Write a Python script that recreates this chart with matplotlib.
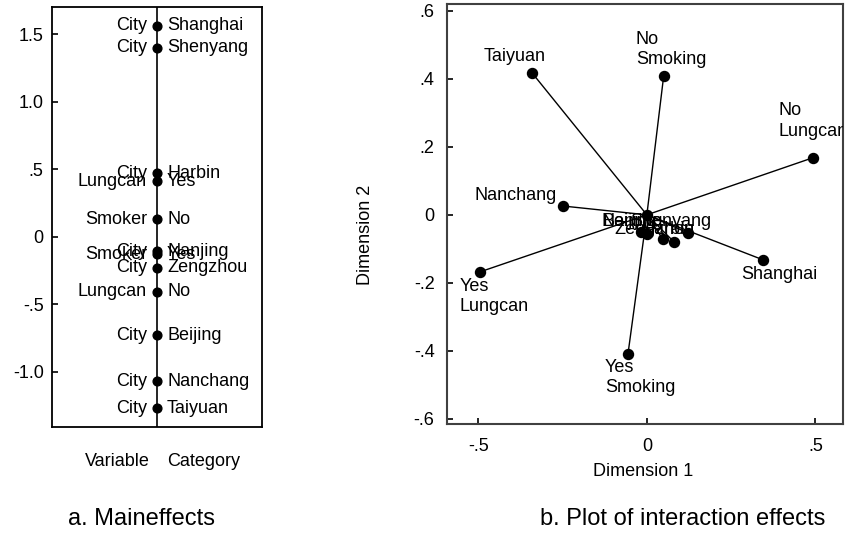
import matplotlib
matplotlib.use("Agg")
import matplotlib.pyplot as plt

plt.rcParams['font.family'] = ['Liberation Sans', 'DejaVu Sans']

# a. main effects
var_names = ["City", "City", "City", "Lungcan", "Smoker", "City", "Smoker",
             "City", "Lungcan", "City", "City", "City"]
cat_names = ["Shanghai", "Shenyang", "Harbin", "Yes", "No", "Nanjing", "Yes",
             "Zengzhou", "No", "Beijing", "Nanchang", "Taiyuan"]
main_vals = [1.56, 1.40, 0.47, 0.41, 0.13, -0.11, -0.13, -0.23, -0.41, -0.73, -1.07, -1.27]

main_ticks = [1.5, 1.0, 0.5, 0, -0.5, -1.0]
main_ticklabels = ["1.5", "1.0", ".5", "0", "-.5", "-1.0"]

# b. interaction effects
int_labels = ["Taiyuan", "No\nSmoking", "No\nLungcan", "Nanchang", "Yes\nLungcan",
              "Shanghai", "Yes\nSmoking", "Beijing", "Nanjing", "Zengzhou", "Harbin", "Shenyang"]
dim1 = [-0.341, 0.050, 0.493, -0.249, -0.496, 0.344, -0.056, -0.018, 0.0, 0.047, 0.080, 0.122]
dim2 = [0.418, 0.409, 0.168, 0.026, -0.168, -0.132, -0.409, -0.050, -0.056, -0.071, -0.079, -0.053]

xticks_b = [-0.5, 0, 0.5]
xticklabels_b = ["-.5", "0", ".5"]
yticks_b = [0.6, 0.4, 0.2, 0, -0.2, -0.4, -0.6]
yticklabels_b = [".6", ".4", ".2", "0", "-.2", "-.4", "-.6"]

# label placement (pixel offsets, alignment)
label_pos = [(-17, 8, 'center', 'bottom'), (-28, 8, 'left', 'bottom'),
             (-35, 18, 'left', 'bottom'), (-6, 11, 'right', 'center'),
             (-20, -6, 'left', 'top'), (17, -15, 'center', 'center'),
             (-23, -5, 'left', 'top'), (-11, 10, 'center', 'center'),
             (-15, 12, 'center', 'center'), (-8, 9, 'center', 'center'),
             (-6, 12, 'center', 'center'), (-17, 11, 'center', 'center')]

fs = 13

fig = plt.figure(figsize=(8.46, 5.33), dpi=100)

# left panel
ax1 = fig.add_axes([52 / 846, 106 / 533, 210 / 846, 420 / 533])
ax1.set_xlim(0, 1)
ax1.set_ylim(-1.41, 1.70)
ax1.axvline(0.5, color='black', lw=1.2)
ax1.plot([0.5] * len(main_vals), main_vals, 'o', color='black', ms=6.3)
for v, c, y in zip(var_names, cat_names, main_vals):
    ax1.annotate(v, (0.5, y), xytext=(-10, 0), textcoords='offset pixels',
                 ha='right', va='center', fontsize=fs)
    ax1.annotate(c, (0.5, y), xytext=(10, 0), textcoords='offset pixels',
                 ha='left', va='center', fontsize=fs)
ax1.set_xticks([])
ax1.set_yticks(main_ticks)
ax1.set_yticklabels(main_ticklabels, fontsize=fs)
ax1.tick_params(axis='y', direction='in', length=4, width=1.2, pad=6)
for s in ax1.spines.values():
    s.set_linewidth(1.3)
    s.set_color('black')

fig.text(150 / 846, 1 - 462 / 533, "Variable", ha='right', va='center', fontsize=fs)
fig.text(167 / 846, 1 - 462 / 533, "Category", ha='left', va='center', fontsize=fs)
fig.text(141 / 846, 1 - 519 / 533, "a. Maineffects", ha='center', va='center', fontsize=17)

# right panel
ax2 = fig.add_axes([447 / 846, 109 / 533, 396 / 846, 420 / 533])
ax2.set_xlim(-0.593, 0.582)
ax2.set_ylim(-0.615, 0.62)
for x, y in zip(dim1, dim2):
    ax2.plot([0, x], [0, y], color='black', lw=1.0)
ax2.plot([0], [0], 'o', color='black', ms=7.2)
ax2.plot(dim1, dim2, 'o', color='black', ms=7.2, ls='none')
for lab, x, y, (dx, dy, ha, va) in zip(int_labels, dim1, dim2, label_pos):
    ax2.annotate(lab, (x, y), xytext=(dx, dy), textcoords='offset pixels',
                 ha=ha, va=va, fontsize=fs, linespacing=1.25,
                 annotation_clip=False, clip_on=True)
ax2.set_xticks(xticks_b)
ax2.set_xticklabels(xticklabels_b, fontsize=fs)
ax2.set_yticks(yticks_b)
ax2.set_yticklabels(yticklabels_b, fontsize=fs)
ax2.tick_params(direction='in', length=4, width=1.2)
ax2.tick_params(axis='y', pad=9)
ax2.tick_params(axis='x', pad=10)
for s in ax2.spines.values():
    s.set_linewidth(1.5)
    s.set_color('#404040')

fig.text(365 / 846, 1 - 235 / 533, "Dimension 2", rotation=90, ha='center', va='center', fontsize=fs)
fig.text(643 / 846, 1 - 471 / 533, "Dimension 1", ha='center', va='center', fontsize=fs)
fig.text(683 / 846, 1 - 519 / 533, "b. Plot of interaction effects", ha='center', va='center', fontsize=17)

fig.savefig("out.png", dpi=100)
